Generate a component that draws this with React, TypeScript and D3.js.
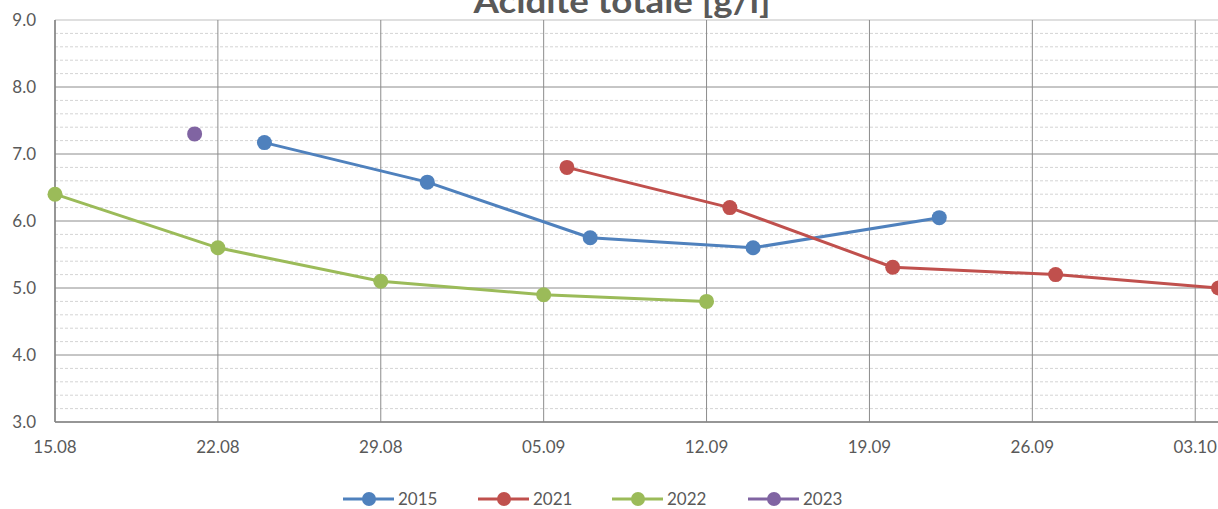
import React from "react";
import * as d3 from "d3";

const W = 1218;
const H = 509;

const yTicks = [3, 4, 5, 6, 7, 8, 9];
const xTickLabels = ["15.08", "22.08", "29.08", "05.09", "12.09", "19.09", "26.09", "03.10"];

const dates2015 = ["24.08", "31.08", "07.09", "14.09", "22.09"];
const values2015 = [7.17, 6.58, 5.75, 5.6, 6.05];
const dates2021 = ["06.09", "13.09", "20.09", "27.09", "04.10"];
const values2021 = [6.8, 6.2, 5.31, 5.2, 5.0];
const dates2022 = ["15.08", "22.08", "29.08", "05.09", "12.09"];
const values2022 = [6.4, 5.6, 5.1, 4.9, 4.8];
const dates2023 = ["21.08"];
const values2023 = [7.3];

const seriesNames = ["2015", "2021", "2022", "2023"];
const seriesColors = ["#4F81BD", "#C0504D", "#9BBB59", "#8064A2"];

const parseD = (s: string) => {
  const [d, m] = s.split(".").map(Number);
  return new Date(2000, m - 1, d);
};

export default function App() {
  const left = 55, right = 1218.5, top = 20, bottom = 422;
  const x = d3.scaleTime().domain([parseD("15.08"), parseD("04.10")]).range([left, right]);
  const y = d3.scaleLinear().domain([3, 9]).range([bottom, top]);
  const font = "Lato, 'Open Sans', sans-serif";

  const series = [
    { dates: dates2015, values: values2015 },
    { dates: dates2021, values: values2021 },
    { dates: dates2022, values: values2022 },
    { dates: dates2023, values: values2023 },
  ];

  const minor: number[] = [];
  for (let v = 3; v < 9 - 1e-9; v += 1) {
    for (let k = 1; k < 5; k++) minor.push(v + k * 0.2);
  }

  const line = d3
    .line<[Date, number]>()
    .x((d) => x(d[0]))
    .y((d) => y(d[1]));

  const legendX = [343, 478, 612, 748];
  const legY = 499;

  return (
    <div style={{ position: "fixed", left: 0, top: 0, width: W, height: H, background: "#fff" }}>
      <svg width={W} height={H} style={{ display: "block" }}>
        <rect x={0} y={0} width={W} height={H} fill="#fff" />
        <text x={622} y={13} textAnchor="middle" fontFamily={font} fontWeight="bold" fontSize={33} fill="#595959" textLength={297} lengthAdjust="spacingAndGlyphs">
          Acidité totale [g/l]
        </text>
        {minor.map((v, i) => (
          <line key={"m" + i} x1={left} x2={W} y1={y(v)} y2={y(v)} stroke="#D4D4D4" strokeWidth={1} strokeDasharray="3,2" />
        ))}
        {yTicks.map((v) => (
          <line key={"g" + v} x1={left} x2={W} y1={y(v)} y2={y(v)} stroke={v === 9 ? "#BFBFBF" : "#8C8C8C"} strokeWidth={1} />
        ))}
        {xTickLabels.map((t) => (
          <line key={"v" + t} x1={x(parseD(t))} x2={x(parseD(t))} y1={top} y2={bottom} stroke="#8C8C8C" strokeWidth={1} />
        ))}
        <line x1={left} x2={left} y1={top} y2={bottom} stroke="#868686" strokeWidth={1.5} />
        <line x1={left} x2={W} y1={bottom} y2={bottom} stroke="#868686" strokeWidth={1.5} />
        {yTicks.map((v) => (
          <text key={"yl" + v} x={36} y={y(v)} dy="0.35em" textAnchor="end" fontFamily={font} fontSize={17} fill="#595959">
            {v.toFixed(1)}
          </text>
        ))}
        {xTickLabels.map((t) => (
          <text key={"xl" + t} x={x(parseD(t))} y={447.5} dy="0.35em" textAnchor="middle" fontFamily={font} fontSize={17} fill="#595959">
            {t}
          </text>
        ))}
        {series.map((s, i) => {
          const pts: [Date, number][] = s.dates.map((d, j) => [parseD(d), s.values[j]]);
          return (
            <g key={"s" + i}>
              {pts.length > 1 && <path d={line(pts) || ""} fill="none" stroke={seriesColors[i]} strokeWidth={3} strokeLinejoin="round" />}
              {pts.map((p, j) => (
                <circle key={j} cx={x(p[0])} cy={y(p[1])} r={7.5} fill={seriesColors[i]} />
              ))}
            </g>
          );
        })}
        {seriesNames.map((n, i) => (
          <g key={"lg" + n}>
            <line x1={legendX[i]} x2={legendX[i] + 51} y1={legY} y2={legY} stroke={seriesColors[i]} strokeWidth={3} />
            <circle cx={legendX[i] + 26} cy={legY} r={7} fill={seriesColors[i]} />
            <text x={legendX[i] + 55} y={legY} dy="0.35em" fontFamily={font} fontSize={17} fill="#595959">
              {n}
            </text>
          </g>
        ))}
      </svg>
    </div>
  );
}
